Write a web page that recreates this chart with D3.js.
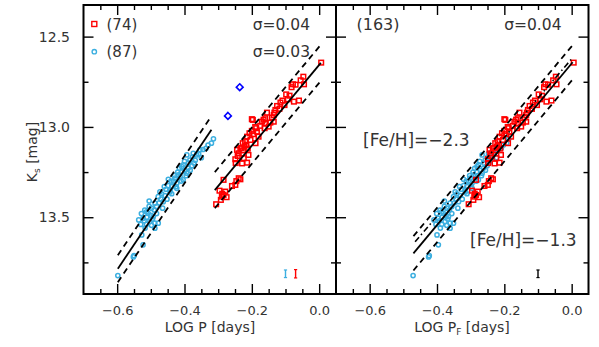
<!DOCTYPE html>
<html>
<head>
<meta charset="utf-8">
<script src="https://cdn.jsdelivr.net/npm/d3@7"></script>
<style>
  body { margin: 0; background: #fff; }
  text { font-family: "DejaVu Sans", sans-serif; fill: #333; }
</style>
</head>
<body>
<svg width="599" height="347"></svg>
<script>
// RRab stars (red squares), [log P, Ks]
const rrab = [
  [0.006, 12.644], [-0.047, 12.722], [-0.078, 12.764], [-0.070, 12.766], [-0.045, 12.764],
  [-0.082, 12.780], [-0.088, 12.827], [-0.109, 12.854], [-0.115, 12.865], [-0.093, 12.847],
  [-0.075, 12.860], [-0.060, 12.854], [-0.130, 12.906], [-0.155, 12.921], [-0.135, 12.934],
  [-0.103, 12.879], [-0.125, 12.884], [-0.133, 12.921], [-0.160, 12.952], [-0.145, 12.976],
  [-0.170, 12.971], [-0.197, 12.961], [-0.175, 12.994], [-0.187, 13.007], [-0.200, 13.022],
  [-0.207, 13.035], [-0.185, 13.026], [-0.214, 13.054], [-0.204, 13.072], [-0.227, 13.090],
  [-0.216, 13.100], [-0.244, 13.127], [-0.234, 13.118], [-0.242, 13.161], [-0.249, 13.179],
  [-0.210, 13.155], [-0.214, 13.198], [-0.224, 13.173], [-0.200, 12.957], [-0.162, 13.007],
  [-0.150, 12.998], [-0.180, 13.054], [-0.189, 13.090], [-0.231, 13.118], [-0.239, 13.146],
  [-0.229, 13.202], [-0.239, 13.284], [-0.284, 13.293], [-0.234, 13.290], [-0.249, 13.321],
  [-0.259, 13.327], [-0.296, 13.353], [-0.279, 13.358], [-0.284, 13.377], [-0.289, 13.386],
  [-0.275, 13.389], [-0.292, 13.404], [-0.306, 13.428], [-0.160, 12.980], [-0.135, 12.971],
  [-0.196, 13.040], [-0.220, 13.080], [-0.226, 13.130], [-0.248, 13.200], [-0.140, 12.948],
  [-0.118, 12.900], [-0.098, 12.820], [-0.055, 12.742], [-0.190, 13.000], [-0.222, 13.110],
  [-0.212, 13.120], [-0.165, 12.960], [-0.288, 13.370], [-0.246, 13.300]
];

// RRc stars (blue circles), [log P, Ks]
const rrc = [
  [-0.314, 13.066], [-0.336, 13.118], [-0.354, 13.127], [-0.374, 13.146], [-0.376, 13.165],
  [-0.393, 13.155], [-0.384, 13.183], [-0.404, 13.210], [-0.389, 13.229], [-0.409, 13.248],
  [-0.393, 13.256], [-0.418, 13.266], [-0.428, 13.284], [-0.404, 13.293], [-0.423, 13.312],
  [-0.438, 13.331], [-0.443, 13.349], [-0.364, 13.155], [-0.378, 13.215], [-0.423, 13.340],
  [-0.443, 13.360], [-0.478, 13.386], [-0.463, 13.414], [-0.488, 13.422], [-0.518, 13.460],
  [-0.508, 13.478], [-0.493, 13.497], [-0.523, 13.506], [-0.503, 13.524], [-0.513, 13.539],
  [-0.488, 13.533], [-0.478, 13.533], [-0.488, 13.561], [-0.527, 13.598], [-0.523, 13.653],
  [-0.550, 13.713], [-0.552, 13.720], [-0.598, 13.823], [-0.468, 13.370], [-0.455, 13.345],
  [-0.483, 13.440], [-0.498, 13.450], [-0.513, 13.470], [-0.528, 13.480], [-0.520, 13.520],
  [-0.500, 13.490], [-0.470, 13.400], [-0.458, 13.380], [-0.448, 13.325], [-0.433, 13.300],
  [-0.413, 13.275], [-0.398, 13.240], [-0.388, 13.200], [-0.368, 13.185], [-0.358, 13.150],
  [-0.345, 13.125], [-0.400, 13.190], [-0.415, 13.230], [-0.430, 13.270], [-0.440, 13.300],
  [-0.460, 13.330], [-0.475, 13.420], [-0.490, 13.460], [-0.505, 13.440], [-0.512, 13.500],
  [-0.495, 13.510], [-0.483, 13.480], [-0.530, 13.540], [-0.517, 13.560], [-0.498, 13.545],
  [-0.465, 13.450], [-0.452, 13.400], [-0.438, 13.370], [-0.425, 13.330], [-0.410, 13.300],
  [-0.395, 13.270], [-0.383, 13.240], [-0.372, 13.200], [-0.350, 13.170], [-0.330, 13.100],
  [-0.320, 13.090], [-0.408, 13.220], [-0.420, 13.250], [-0.448, 13.290], [-0.473, 13.360],
  [-0.536, 13.515], [-0.505, 13.410]
];

// blue diamonds (left panel only)
const outliers = [[-0.236, 12.780], [-0.271, 12.939]];

// fundamentalization shift for RRc periods
const fundShift = 0.127;

// fits: endpoints [log P, Ks] and half-width of dashed band
const rrcFit = [[-0.598, 13.785], [-0.320, 13.015]];
const rrcBand = 0.075;
const rrabFit = [[-0.310, 13.350], [0.005, 12.645]];
const rrabBand = 0.10;
const allFit = [[-0.470, 13.700], [0.003, 12.642]];
const allBand = 0.095;
const metalPoorFit = [[-0.465, 13.636], [0.000, 12.623]];

// typical error bars [log P, Ks, err]
const errRRc = [-0.100, 13.813, 0.021];
const errRRab = [-0.070, 13.813, 0.023];
const errAll = [-0.100, 13.813, 0.021];

const xMajor = [-0.6, -0.4, -0.2, 0.0];
const xMinor = [-0.65, -0.55, -0.5, -0.45, -0.35, -0.3, -0.25, -0.15, -0.1, -0.05];
const yMajor = [12.5, 13.0, 13.5];
const yMinor = [12.75, 13.25, 13.75];

const red = "#ff0000", blue = "#3cafe0";

const svg = d3.select("svg");
const y = d3.scaleLinear([12.325, 13.925], [5, 294]);
const xL = d3.scaleLinear([-0.7, 0.05], [83.5, 336]);
const xR = d3.scaleLinear([-0.7, 0.05], [336, 588.5]);

function styleAxis(s, size, family) {
  s.select(".domain").remove();
  s.selectAll("line").attr("stroke", "#000").attr("stroke-width", 1.4);
  s.attr("font-family", family).attr("font-size", size);
  s.selectAll("text").attr("fill", "#333");
}

function drawFrame(x, yLabels) {
  const [l, r] = x.range();
  const g = svg.append("g");
  // bottom
  g.append("g").attr("transform", "translate(0,294)")
    .call(d3.axisBottom(x).tickValues(xMinor).tickSize(-5).tickFormat(""))
    .call(styleAxis, 13, "DejaVu Sans");
  g.append("g").attr("transform", "translate(0,294)")
    .call(d3.axisBottom(x).tickValues(xMajor).tickSize(-10).tickPadding(12).tickFormat(d3.format(".1f")))
    .call(styleAxis, 13, "DejaVu Sans");
  // top
  g.append("g").attr("transform", "translate(0,5)")
    .call(d3.axisTop(x).tickValues(xMinor).tickSize(-5).tickFormat(""))
    .call(styleAxis, 13, "DejaVu Sans");
  g.append("g").attr("transform", "translate(0,5)")
    .call(d3.axisTop(x).tickValues(xMajor).tickSize(-10).tickFormat(""))
    .call(styleAxis, 13, "DejaVu Sans");
  // left
  g.append("g").attr("transform", `translate(${l},0)`)
    .call(d3.axisLeft(y).tickValues(yMinor).tickSize(-5).tickFormat(""))
    .call(styleAxis, 14, "Liberation Sans");
  g.append("g").attr("transform", `translate(${l},0)`)
    .call(d3.axisLeft(y).tickValues(yMajor).tickSize(-10).tickPadding(13.5)
      .tickFormat(yLabels ? d3.format(".1f") : ""))
    .call(styleAxis, 14, "Liberation Sans");
  // right
  g.append("g").attr("transform", `translate(${r},0)`)
    .call(d3.axisRight(y).tickValues(yMinor).tickSize(-5).tickFormat(""))
    .call(styleAxis, 14, "Liberation Sans");
  g.append("g").attr("transform", `translate(${r},0)`)
    .call(d3.axisRight(y).tickValues(yMajor).tickSize(-10).tickFormat(""))
    .call(styleAxis, 14, "Liberation Sans");

  g.append("rect")
    .attr("x", l).attr("y", 5)
    .attr("width", r - l).attr("height", 289)
    .attr("fill", "none").attr("stroke", "#000").attr("stroke-width", 2);
}

function drawCircles(g, x, data, shift) {
  g.selectAll(null).data(data).enter().append("circle")
    .attr("cx", d => x(d[0] + shift))
    .attr("cy", d => y(d[1]))
    .attr("r", 2.1)
    .attr("fill", "none").attr("stroke", blue).attr("stroke-width", 1.5);
}

function drawSquares(g, x, data) {
  const s = 4.6;
  g.selectAll(null).data(data).enter().append("rect")
    .attr("x", d => x(d[0]) - s / 2)
    .attr("y", d => y(d[1]) - s / 2)
    .attr("width", s).attr("height", s)
    .attr("fill", "none").attr("stroke", red).attr("stroke-width", 1.5);
}

function drawFit(g, x, fit, band, dash) {
  const line = d3.line().x(d => x(d[0])).y(d => y(d[1]));
  g.append("path").attr("d", line(fit))
    .attr("fill", "none").attr("stroke", "#000").attr("stroke-width", 1.8);
  [-band, band].forEach(o => {
    g.append("path").attr("d", line(fit.map(d => [d[0], d[1] + o])))
      .attr("fill", "none").attr("stroke", "#000").attr("stroke-width", 1.8)
      .attr("stroke-dasharray", dash);
  });
}

function drawErr(g, x, e, color) {
  const cx = x(e[0]);
  const y0 = y(e[1] - e[2]), y1 = y(e[1] + e[2]);
  g.append("line").attr("x1", cx).attr("x2", cx).attr("y1", y0).attr("y2", y1)
    .attr("stroke", color).attr("stroke-width", 1.4);
  [y0, y1].forEach(v => g.append("line")
    .attr("x1", cx - 1.6).attr("x2", cx + 1.6).attr("y1", v).attr("y2", v)
    .attr("stroke", color).attr("stroke-width", 1.2));
}

function label(txt, x0, yb, size, anchor) {
  return svg.append("text").attr("x", x0).attr("y", yb)
    .attr("font-size", size).attr("text-anchor", anchor || "start").text(txt);
}

// ---- left panel
drawFrame(xL, true);
const gl = svg.append("g");
drawCircles(gl, xL, rrc, 0);
drawSquares(gl, xL, rrab);
gl.selectAll(null).data(outliers).enter().append("path")
  .attr("d", d => {
    const cx = xL(d[0]), cy = y(d[1]), h = 3.4;
    return `M${cx},${cy - h}L${cx + h},${cy}L${cx},${cy + h}L${cx - h},${cy}Z`;
  })
  .attr("fill", "none").attr("stroke", "#0000ff").attr("stroke-width", 1.6);
drawFit(gl, xL, rrcFit, rrcBand, "6,4.5");
drawFit(gl, xL, rrabFit, rrabBand, "6,4.5");
drawErr(gl, xL, errRRc, blue);
drawErr(gl, xL, errRRab, red);

// legend
gl.append("rect").attr("x", 94.3 - 2.5).attr("y", 24 - 2.5).attr("width", 5).attr("height", 5)
  .attr("fill", "none").attr("stroke", red).attr("stroke-width", 1.4);
gl.append("circle").attr("cx", 94.3).attr("cy", 51.7).attr("r", 2.2)
  .attr("fill", "none").attr("stroke", blue).attr("stroke-width", 1.4);
label("(74)", 106.5, 29.5, 15);
label("(87)", 106.5, 57.2, 15);
label("σ=0.04", 310, 29.5, 15.5, "end");
label("σ=0.03", 310, 57.2, 15.5, "end");

// ---- right panel
drawFrame(xR, false);
const gr = svg.append("g");
drawCircles(gr, xR, rrc, fundShift);
drawSquares(gr, xR, rrab);
drawFit(gr, xR, allFit, allBand, "6,4.5");
gr.append("path")
  .attr("d", d3.line().x(d => xR(d[0])).y(d => y(d[1]))(metalPoorFit))
  .attr("fill", "none").attr("stroke", "#000").attr("stroke-width", 1.6)
  .attr("stroke-dasharray", "6,3,1.5,3");
drawErr(gr, xR, errAll, "#000");
label("(163)", 356.5, 29.5, 16);
label("σ=0.04", 561.5, 29.5, 15.5, "end");
label("[Fe/H]=−2.3", 363, 146, 17);
label("[Fe/H]=−1.3", 470, 246, 17);

// ---- axis titles
const ky = svg.append("text").attr("font-size", 14).attr("text-anchor", "middle")
  .attr("transform", "translate(37,152) rotate(-90)");
ky.append("tspan").text("K");
ky.append("tspan").attr("font-size", 9).attr("dy", 3).text("s");
ky.append("tspan").attr("dy", -3).text(" [mag]");

const xl = svg.append("text").attr("font-size", 14).attr("text-anchor", "middle")
  .attr("x", 210).attr("y", 332);
xl.text("LOG P [days]");

const xr = svg.append("text").attr("font-size", 14).attr("text-anchor", "middle")
  .attr("x", 462).attr("y", 332);
xr.append("tspan").text("LOG P");
xr.append("tspan").attr("font-size", 9).attr("dy", 3).text("F");
xr.append("tspan").attr("dy", -3).text(" [days]");
</script>
</body>
</html>
